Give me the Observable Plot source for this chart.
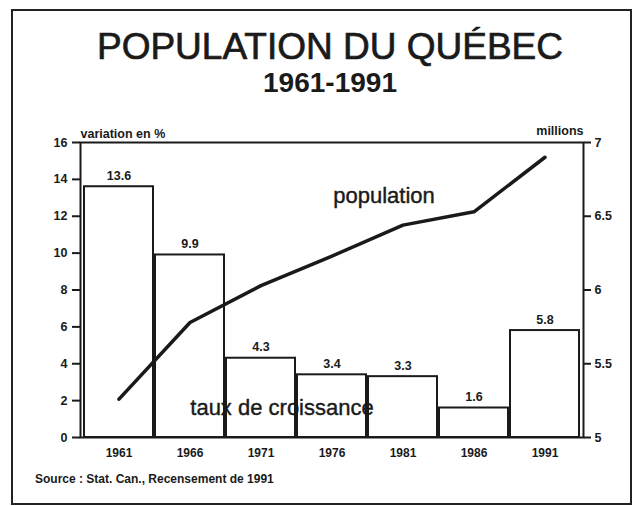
<!DOCTYPE html>
<html>
<head>
<meta charset="utf-8">
<script src="https://cdn.jsdelivr.net/npm/d3@7"></script>
<script src="https://cdn.jsdelivr.net/npm/@observablehq/plot@0.6"></script>
<style>
  html, body { margin: 0; padding: 0; background: #fff; }
  #wrap { position: relative; width: 636px; height: 506px; overflow: hidden; font-family: "Liberation Sans", Arial, sans-serif; color: #1a1a1a; }
  #border { position: absolute; left: 11px; top: 9px; width: 621px; height: 496px; border: 2px solid #222; box-sizing: border-box; }
  .t { position: absolute; left: 0; width: 660px; text-align: center; line-height: 1; white-space: nowrap; }
  #title { top: 28px; font-size: 37px; font-weight: 400; -webkit-text-stroke: 0.7px #1a1a1a; }
  #subtitle { top: 69px; font-size: 28px; font-weight: 700; }
  #caption { position: absolute; left: 35px; top: 473px; font-size: 12px; font-weight: 700; line-height: 1; white-space: nowrap; }
  #chart { position: absolute; left: 0; top: 0; }
</style>
</head>
<body>
<div id="wrap">
  <div id="border"></div>
  <div id="chart"></div>
  <div class="t" id="title">POPULATION DU QUÉBEC</div>
  <div class="t" id="subtitle">1961-1991</div>
  <div id="caption">Source : Stat. Can., Recensement de 1991</div>
</div>
<script>
const years = ["1961", "1966", "1971", "1976", "1981", "1986", "1991"];
const growth = [13.6, 9.9, 4.3, 3.4, 3.3, 1.6, 5.8];
const growthLabels = ["13.6", "9.9", "4.3", "3.4", "3.3", "1.6", "5.8"];
const population = [5.26, 5.78, 6.03, 6.23, 6.44, 6.53, 6.90];
const leftTicks = [0, 2, 4, 6, 8, 10, 12, 14, 16];
const rightTicks = [5, 5.5, 6, 6.5, 7];

// map population (millions, 5..7) onto the growth axis (0..16)
const popToY = (p) => (p - 5) * 8;
const yToPop = (y) => String(+(y / 8 + 5).toFixed(1));

const rows = years.map((year, i) => ({year, growth: growth[i], label: growthLabels[i], pop: population[i]}));

const bold = {fontWeight: "bold", fontSize: 12.5};
const ink = "#1a1a1a";

const chart = Plot.plot({
  width: 636,
  height: 506,
  marginLeft: 80,
  marginRight: 53,
  marginTop: 142,
  marginBottom: 69,
  style: {fontFamily: "'Liberation Sans', Arial, sans-serif", color: ink, background: "transparent", overflow: "visible"},
  x: {domain: years, padding: 0.03, label: null},
  y: {domain: [0, 16], label: null},
  marks: [
    Plot.text(["taux de croissance"], {x: ["1971"], y: [1.6], dx: 21, text: (d) => d, fontSize: 22, fill: ink, stroke: ink, strokeWidth: 0.4}),
    Plot.barY(rows, {x: "year", y: "growth", fill: "white", fillOpacity: 0, stroke: ink, strokeWidth: 2}),
    Plot.text(rows, {x: "year", y: "growth", text: "label", dy: -11, ...bold, fill: ink}),
    Plot.line(rows, {x: "year", y: (d) => popToY(d.pop), stroke: ink, strokeWidth: 3.5, strokeLinejoin: "round"}),
    Plot.text(["population"], {x: ["1981"], y: [13.1], dx: -19, text: (d) => d, fontSize: 22, fill: ink, stroke: ink, strokeWidth: 0.4}),
    Plot.frame({stroke: ink, strokeWidth: 2}),
    Plot.axisY(leftTicks, {anchor: "left", tickSize: 8, tickPadding: 5, strokeWidth: 2, label: null, ...bold}),
    Plot.axisY(rightTicks.map(popToY), {anchor: "right", tickSize: 7, tickPadding: 4, strokeWidth: 2, tickFormat: yToPop, label: null, ...bold}),
    Plot.axisX({tickSize: 0, tickPadding: 11, label: null, fontWeight: "bold", fontSize: 12}),
    Plot.text(["variation en %"], {frameAnchor: "top-left", dy: -13, textAnchor: "start", text: (d) => d, ...bold, fill: ink}),
    Plot.text(["millions"], {frameAnchor: "top-right", dy: -16, textAnchor: "end", text: (d) => d, ...bold, fill: ink})
  ]
});
document.getElementById("chart").appendChild(chart);
</script>
</body>
</html>
